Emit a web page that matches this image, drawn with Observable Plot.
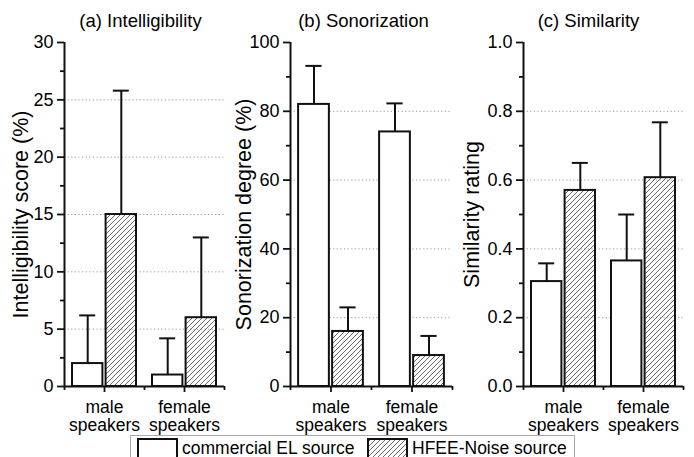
<!DOCTYPE html>
<html><head><meta charset="utf-8">
<script src="https://cdn.jsdelivr.net/npm/d3@7"></script>
<script src="https://cdn.jsdelivr.net/npm/@observablehq/plot@0.6"></script>
<style>
body{margin:0;background:#fff;font-family:"Liberation Sans",Arial,sans-serif;}
#wrap{position:relative;width:694px;height:457px;overflow:hidden;background:#fff;}
#wrap > svg{position:absolute;top:0;}
#legend{position:absolute;left:130px;top:435px;width:445px;height:26px;border:1px solid #aaa;box-sizing:border-box;font-size:17.5px;color:#000;}
#legend svg, #legend span{position:absolute;}
</style></head><body>
<div id="wrap"></div>
<script>
const groups = ["male\nspeakers", "female\nspeakers"];
const series = ["commercial EL source", "HFEE-Noise source"];
const titles = ["(a) Intelligibility", "(b) Sonorization", "(c) Similarity"];
const yLabels = ["Intelligibility score (%)", "Sonorization degree (%)", "Similarity rating"];
// order: [male commercial, male HFEE, female commercial, female HFEE]
const intelMean = [2, 15, 1, 6];
const intelUpper = [6.2, 25.8, 4.2, 13];
const sonorMean = [82, 16, 74, 9];
const sonorUpper = [93.2, 23, 82.3, 14.7];
const simMean = [0.305, 0.57, 0.365, 0.607];
const simUpper = [0.358, 0.65, 0.50, 0.768];
const intelTicks = [0, 5, 10, 15, 20, 25, 30];
const sonorTicks = [0, 20, 40, 60, 80, 100];
const simTicks = [0, 0.2, 0.4, 0.6, 0.8, 1.0];

const FONT = '"Liberation Sans", Arial, sans-serif';
const INK = "#111";

function hatchDefs(svg, id) {
  d3.select(svg).insert("defs", ":first-child").html(
    `<pattern id="${id}" patternUnits="userSpaceOnUse" width="5" height="5">
       <path d="M-1,1 l2,-2 M0,5 l5,-5 M4,6 l2,-2" stroke="#444" stroke-width="0.8"/>
     </pattern>`);
}

function panel({idx, mean, upper, ticks, left, width, inner, titleDx, labelDx, fmt}) {
  const hid = "hatch" + idx;
  const rows = [];
  groups.forEach((g, gi) => series.forEach((s, si) => {
    const k = gi * 2 + si;
    const c = gi + 1 + (si === 0 ? -0.21 : 0.21);
    rows.push({g, s, si, c, x1: c - 0.19, x2: c + 0.19, mean: mean[k], upper: upper[k]});
  }));
  const step = ticks[1] - ticks[0];
  const minor = ticks.slice(0, -1).map(t => t + step / 2);
  const grid = ticks.slice(1, -1);
  const svg = Plot.plot({
    width, height: 432,
    marginLeft: 64, marginRight: width - 64 - inner, marginTop: 42, marginBottom: 46,
    style: {fontFamily: FONT, fontSize: "17px", color: "#000", background: "transparent", overflow: "visible"},
    x: {domain: [0.5, 2.5]},
    y: {domain: [ticks[0], ticks[ticks.length - 1]]},
    marks: [
      Plot.ruleY(grid, {stroke: "#999", strokeDasharray: "1.2,2.4", strokeWidth: 1}),
      Plot.rect(rows.filter(d => d.si === 0), {x1: "x1", x2: "x2", y1: 0, y2: "mean", fill: "white", stroke: INK, strokeWidth: 2}),
      Plot.rect(rows.filter(d => d.si === 1), {x1: "x1", x2: "x2", y1: 0, y2: "mean", fill: `url(#${hid})`, stroke: INK, strokeWidth: 2}),
      Plot.ruleX(rows, {x: "c", y1: "mean", y2: "upper", stroke: INK, strokeWidth: 2}),
      Plot.ruleY(rows, {y: "upper", x1: d => d.c - 0.1, x2: d => d.c + 0.1, stroke: INK, strokeWidth: 2}),
      Plot.axisY({ticks, tickSize: 7, tickPadding: 4, tickFormat: fmt, label: null, stroke: INK, strokeWidth: 1.8, fontSize: 18}),
      Plot.axisY({ticks: minor, tickSize: 4, tickFormat: () => "", label: null, stroke: INK, strokeWidth: 1.8}),
      Plot.axisX({ticks: [1, 2], tickSize: 6, tickPadding: 7, tickFormat: i => groups[i - 1], label: null, stroke: INK, strokeWidth: 1.8, fontSize: 17.5, lineHeight: 1.05}),
      Plot.axisX({ticks: [0.5, 1.5, 2.5], tickSize: 4, tickFormat: () => "", label: null, stroke: INK, strokeWidth: 1.8}),
      Plot.ruleX([0.5], {stroke: INK, strokeWidth: 2}),
      Plot.ruleY([ticks[0]], {stroke: INK, strokeWidth: 2}),
      Plot.text([titles[idx]], {frameAnchor: "top", lineAnchor: "middle", textAnchor: "middle", dy: -21, dx: titleDx, fontSize: 18.5}),
      Plot.text([yLabels[idx]], {frameAnchor: "left", textAnchor: "middle", lineAnchor: "middle", rotate: -90, dx: labelDx, fontSize: 21.5})
    ]
  });
  hatchDefs(svg, hid);
  svg.style.left = left + "px";
  document.getElementById("wrap").appendChild(svg);
}

panel({idx: 0, mean: intelMean, upper: intelUpper, ticks: intelTicks, left: 0, width: 232, inner: 160, titleDx: -4, labelDx: -43, fmt: d3.format("d")});
panel({idx: 1, mean: sonorMean, upper: sonorUpper, ticks: sonorTicks, left: 226, width: 234, inner: 162, titleDx: -8, labelDx: -46, fmt: d3.format("d")});
panel({idx: 2, mean: simMean, upper: simUpper, ticks: simTicks, left: 459, width: 232, inner: 160, titleDx: -15, labelDx: -51, fmt: d3.format(".1f")});

// legend
const lg = document.createElement("div");
lg.id = "legend";
lg.innerHTML = `
  <svg width="41" height="22" style="left:6px;top:2px"><rect x="1" y="1" width="39" height="20" fill="white" stroke="${INK}" stroke-width="2"/></svg>
  <span style="left:51px;top:1px;line-height:22px">${series[0]}</span>
  <svg width="41" height="22" style="left:236px;top:2px"><defs><pattern id="hatchL" patternUnits="userSpaceOnUse" width="5" height="5"><path d="M-1,1 l2,-2 M0,5 l5,-5 M4,6 l2,-2" stroke="#444" stroke-width="0.8"/></pattern></defs><rect x="1" y="1" width="39" height="20" fill="url(#hatchL)" stroke="${INK}" stroke-width="2"/></svg>
  <span style="left:281px;top:1px;line-height:22px">${series[1]}</span>`;
document.getElementById("wrap").appendChild(lg);
</script>
</body></html>
